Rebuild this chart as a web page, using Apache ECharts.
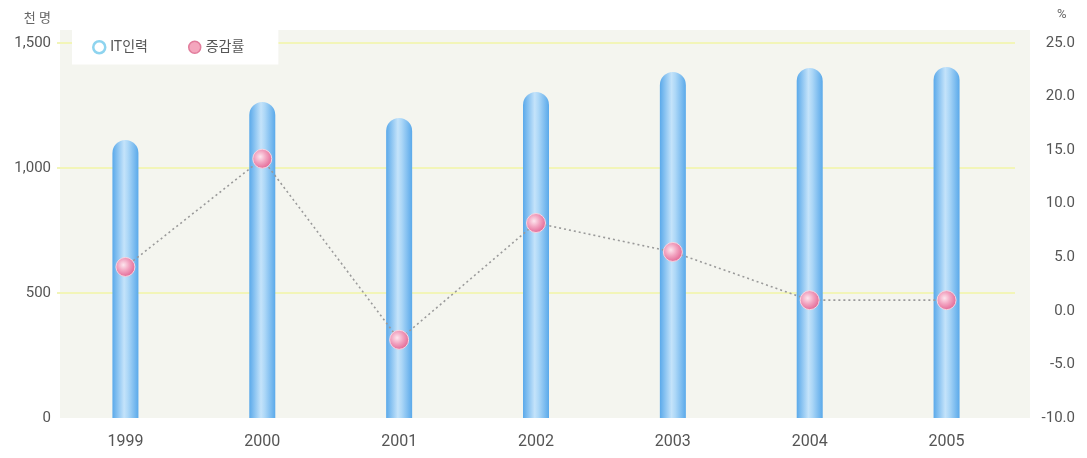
<!DOCTYPE html>
<html>
<head>
<meta charset="utf-8">
<script src="https://cdn.jsdelivr.net/npm/echarts@6/dist/echarts.min.js"></script>
<style>html,body{margin:0;padding:0;background:#fff;}#c{width:1087px;height:458px;}</style>
</head>
<body>
<div id="c"></div>
<script>
const categories = ['1999','2000','2001','2002','2003','2004','2005'];
const itWorkforce = [1112, 1264, 1200, 1304, 1384, 1400, 1404];
const changeRate = [4.1, 14.2, -2.7, 8.2, 5.5, 1.0, 1.0];
const leftTicks = [0, 500, 1000, 1500];
const rightTicks = [-10, -5, 0, 5, 10, 15, 20, 25];

const chart = echarts.init(document.getElementById('c'), null, {renderer:'canvas'});
const FONT = '"Roboto", "Noto Sans CJK KR", sans-serif';
chart.setOption({
  animation: false,
  backgroundColor: '#ffffff',
  graphic: [{
    type: 'rect', z: -10, silent: true,
    shape: {x: 60, y: 30, width: 970, height: 388},
    style: {fill: '#f4f5ef'}
  }],
  grid: {left: 57, right: 72, top: 43, bottom: 40, containLabel: false},
  legend: {
    left: 72, top: 30,
    backgroundColor: '#ffffff',
    padding: [10, 34, 10, 20],
    itemGap: 40, itemWidth: 12, itemHeight: 12,
    textStyle: {fontFamily: FONT, fontSize: 14, color: '#555'},
    data: [
      {name: 'IT인력', icon: 'circle', itemStyle: {color: '#ffffff', borderColor: '#8ed4ef', borderWidth: 2.5}},
      {name: '증감률', icon: 'circle', itemStyle: {color: '#f4a6bd', borderColor: '#e27d9c', borderWidth: 1.5}}
    ]
  },
  xAxis: {
    type: 'category', data: categories,
    axisLine: {show: false}, axisTick: {show: false},
    axisLabel: {fontFamily: FONT, fontSize: 16, color: '#555', margin: 16}
  },
  yAxis: [{
    type: 'value', min: leftTicks[0], max: leftTicks[leftTicks.length-1], interval: 500,
    name: '천 명', nameLocation: 'end', nameGap: 18,
    nameTextStyle: {fontFamily: FONT, fontSize: 13, color: '#666', align: 'right', padding: [0, 6, 0, 0]},
    axisLine: {show: false}, axisTick: {show: false},
    axisLabel: {fontFamily: FONT, fontSize: 15, color: '#555', margin: 6,
      formatter: v => v.toLocaleString('en-US')},
    splitLine: {show: true, lineStyle: {color: ['transparent', '#f2f5b8', '#f2f5b8', '#f2f5b8'], width: 2}}
  }, {
    type: 'value', min: rightTicks[0], max: rightTicks[rightTicks.length-1], interval: 5,
    name: '%', nameLocation: 'end', nameGap: 22,
    nameTextStyle: {fontFamily: FONT, fontSize: 13, color: '#666', align: 'left', padding: [0, 0, 0, 42]},
    axisLine: {show: false}, axisTick: {show: false},
    axisLabel: {fontFamily: FONT, fontSize: 15, color: '#555', margin: 60, align: 'right',
      formatter: v => v.toFixed(1)},
    splitLine: {show: false}
  }],
  series: [{
    name: 'IT인력', type: 'bar', yAxisIndex: 0, data: itWorkforce,
    barWidth: 26,
    itemStyle: {
      borderRadius: [13, 13, 0, 0],
      color: new echarts.graphic.LinearGradient(0, 0, 1, 0, [
        {offset: 0, color: '#5aa9ea'},
        {offset: 0.45, color: '#c4e3fa'},
        {offset: 0.6, color: '#acd7f7'},
        {offset: 1, color: '#5aa9ea'}
      ])
    }
  }, {
    name: '증감률', type: 'line', yAxisIndex: 1, data: changeRate,
    symbol: 'circle', symbolSize: 19, z: 5,
    lineStyle: {color: '#9a9a9a', width: 1.6, type: [2, 3]},
    itemStyle: {
      color: new echarts.graphic.RadialGradient(0.4, 0.4, 0.6, [
        {offset: 0, color: '#fde6ee'},
        {offset: 0.5, color: '#f2a3c0'},
        {offset: 1, color: '#e36b98'}
      ]),
      borderColor: '#f7d4e0', borderWidth: 1
    }
  }]
});
</script>
</body>
</html>
